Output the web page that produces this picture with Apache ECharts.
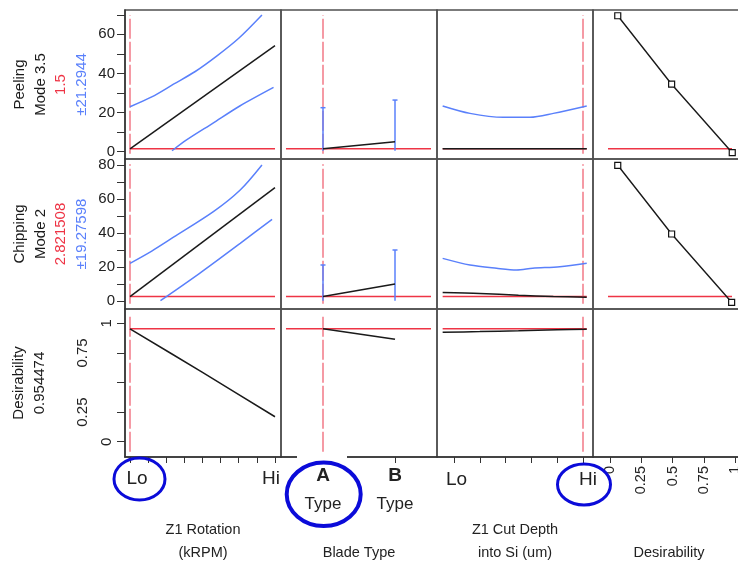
<!DOCTYPE html>
<html>
<head>
<meta charset="utf-8">
<script src="https://cdn.jsdelivr.net/npm/echarts@6/dist/echarts.min.js"></script>
<style>
  html, body { margin: 0; padding: 0; background: #fff; }
  #box { width: 738px; height: 564px; }
</style>
</head>
<body>
<div id="box"></div>
<script>
// current settings shown in the profiler
const peelNow = 1.5, chipNow = 2.821508, desirNow = 0.954474;
const nowValues = [peelNow, chipNow, desirNow];
const factorNow = [0, 0, 1]; // Lo, A, Hi

// tick values / labels
const peelTicks = [0, 20, 40, 60];
const chipTicks = [0, 20, 40, 60, 80];
const peelMinor = [10, 30, 50, 70];
const chipMinor = [10, 30, 50, 70];
const desirTicks = [0, 0.25, 0.5, 0.75, 1];
const desirTickLabels = ['0', '0.25', '', '0.75', '1'];
const rotTicks = [0, 0.125, 0.25, 0.375, 0.5, 0.625, 0.75, 0.875, 1];
const cutTicks = [0, 0.2, 0.4, 0.6, 0.8, 1];
const levelLabels = ['Lo', 'Hi'];
const bladeLevels = ['A', 'B'];
const factorNames = ['Z1 Rotation\n(kRPM)', 'Blade Type', 'Z1 Cut Depth\ninto Si (um)', 'Desirability'];

// Z1 Rotation profiles  [x (0=Lo,1=Hi), value]
const peelRot = [[0, 1.5], [1, 54.2]];
const peelRotHi = [[0, 23], [0.15, 28], [0.3, 34.5], [0.45, 41], [0.6, 49], [0.75, 58], [0.91, 69.9]];
const peelRotLo = [[0.29, 0.5], [0.39, 6], [0.57, 14.5], [0.76, 23.5], [0.99, 32.9]];
const chipRot = [[0, 2.8], [1, 66.7]];
const chipRotHi = [[0, 22.3], [0.15, 29.5], [0.3, 37.6], [0.575, 52.6], [0.76, 65.3], [0.91, 80]];
const chipRotLo = [[0.21, 0.35], [0.48, 16.4], [0.76, 34], [0.98, 48.1]];
const desirRot = [[0, 0.954], [0.5, 0.585], [1, 0.211]];

// Blade type (A, B)
const bladeX = [0, 1];
const peelBlade = [1.5, 5.1];
const peelBladeHi = [22.5, 26.4];
const peelBladeLo = [0.5, 0.5];
const chipBlade = [2.8, 10.2];
const chipBladeHi = [21.3, 30.1];
const chipBladeLo = [0.3, 0.3];
const desirBlade = [0.954, 0.865];

// Z1 Cut depth profiles
const peelCut = [[-0.088, 1.5], [1.029, 1.5]];
const peelCutHi = [[-0.088, 23.4], [0.124, 19.6], [0.382, 17.6], [0.589, 17.6], [0.77, 19.6], [1.029, 23.4]];
const chipCut = [[-0.088, 5.1], [0.2, 4.6], [0.5, 3.6], [0.77, 2.8], [1.029, 2.4]];
const chipCutHi = [[-0.088, 25.2], [0.124, 21.3], [0.33, 19.4], [0.485, 18.4], [0.61, 19.4], [0.82, 20.3], [1.029, 22.3]];
const desirCut = [[-0.088, 0.925], [0.2, 0.93], [0.5, 0.937], [0.8, 0.945], [1.029, 0.95]];

// desirability functions [desirability, response]
const peelDesFn = [[0.062, 69.5], [0.493, 34.5], [0.978, -0.5]];
const chipDesFn = [[0.062, 79.8], [0.493, 39.5], [0.973, -0.6]];

// ---- layout ----
const FONT = 'Liberation Sans, Arial, sans-serif';
const BLACK = '#1a1a1a', BLUE = '#5a80fb', RED = '#ee3445', RED_V = '#f06474';
const cols = [[125, 281], [281, 437], [437, 593], [593, 745]];
const rows = [[10, 159], [159, 309], [309, 457]];
const xMin = [-0.0345, -0.5833, -0.1318, -0.136];
const xMax = [1.0414, 1.5833, 1.0775, 1.08];
const yMin = [-3.73, -4.52, -0.129];
const yMax = [72.44, 83.5, 1.121];
const hSpan = [[0, 1], [-0.514, 1.5], [-0.088, 1.029], [-0.016, 0.976]];

const rowNames = [
  '{k|Peeling}\n{k|Mode 3.5}\n{r|' + peelNow + '}\n{b|±21.2944}',
  '{k|Chipping}\n{k|Mode 2}\n{r|' + chipNow + '}\n{b|±19.27598}',
  '{k|Desirability}\n{k|' + desirNow + '}'
];
const nameRich = {
  k: { color: BLACK, fontSize: 15, lineHeight: 20.7, fontFamily: FONT },
  r: { color: RED, fontSize: 15, lineHeight: 20.7, fontFamily: FONT },
  b: { color: BLUE, fontSize: 15, lineHeight: 20.7, fontFamily: FONT }
};

let grids = [], xAxes = [], yAxes = [], series = [];

for (let r = 0; r < 3; r++) {
  for (let c = 0; c < 4; c++) {
    const g = r * 4 + c;
    grids.push({
      left: cols[c][0], top: rows[r][0],
      width: cols[c][1] - cols[c][0], height: rows[r][1] - rows[r][0],
      show: true, borderColor: '#505050', borderWidth: 1.5,
      containLabel: false, outerBoundsMode: 'none'
    });

    // x axis
    let xa = {
      type: 'value', gridIndex: g, min: xMin[c], max: xMax[c],
      show: r === 2, splitLine: { show: false },
      axisLine: { show: true, onZero: false, lineStyle: { color: '#333', width: 1.5 } },
      axisTick: { show: true, length: 6, lineStyle: { color: '#333' } },
      axisLabel: { show: true, hideOverlap: false, color: '#222', fontFamily: FONT },
      nameMoveOverlap: false
    };
    if (r === 2) {
      xa.name = factorNames[c];
      xa.nameLocation = 'middle';
      xa.nameGap = (c === 0 || c === 2) ? 61.5 : 84.5;
      xa.nameTextStyle = { fontSize: 14.5, lineHeight: 23, color: '#222', fontFamily: FONT };
      if (c === 0) {
        xa.axisTick.customValues = rotTicks;
        xa.axisLabel.customValues = [0, 1];
        xa.axisLabel.margin = 12;
        xa.axisLabel.formatter = v => v === 0 ? '{lo|' + levelLabels[0] + '}' : '{hi|' + levelLabels[1] + '}';
        xa.axisLabel.rich = {
          lo: { fontSize: 19, fontFamily: FONT, color: '#222', padding: [0, 0, 0, 14] },
          hi: { fontSize: 19, fontFamily: FONT, color: '#222', padding: [0, 8, 0, 0] }
        };
      } else if (c === 1) {
        xa.axisTick.customValues = bladeX;
        xa.axisLabel.customValues = bladeX;
        xa.axisLabel.margin = 5;
        xa.axisLabel.formatter = v => '{big|' + bladeLevels[v] + '}\n{sm|Type}';
        xa.axisLabel.rich = {
          big: { fontSize: 19, fontWeight: 'bold', fontFamily: FONT, color: '#222', lineHeight: 28 },
          sm: { fontSize: 17, fontFamily: FONT, color: '#222', lineHeight: 28 }
        };
      } else if (c === 2) {
        xa.axisTick.customValues = cutTicks;
        xa.axisLabel.customValues = [0, 1];
        xa.axisLabel.margin = 13;
        xa.axisLabel.formatter = v => v === 0 ? '{lo|' + levelLabels[0] + '}' : '{hi|' + levelLabels[1] + '}';
        xa.axisLabel.rich = {
          lo: { fontSize: 19, fontFamily: FONT, color: '#222', padding: [0, 0, 0, 5] },
          hi: { fontSize: 19, fontFamily: FONT, color: '#222', padding: [0, 0, 0, 10] }
        };
      } else {
        xa.axisTick.customValues = desirTicks;
        xa.axisLabel.customValues = desirTicks;
        xa.axisLabel.rotate = 90;
        xa.axisLabel.margin = 9;
        xa.axisLabel.fontSize = 14.5;
        xa.axisLabel.formatter = v => String(v);
      }
    }
    xAxes.push(xa);

    // y axis
    let ya = {
      type: 'value', gridIndex: g, min: yMin[r], max: yMax[r],
      show: c === 0, splitLine: { show: false },
      axisLine: { show: true, onZero: false, lineStyle: { color: '#333', width: 1.5 } },
      axisTick: { show: true, length: 8, lineStyle: { color: '#333' } },
      axisLabel: { show: true, hideOverlap: false, color: '#222', fontSize: 15, fontFamily: FONT, margin: 10 },
      nameMoveOverlap: false
    };
    if (c === 0) {
      ya.name = rowNames[r];
      ya.nameLocation = 'middle';
      ya.nameGap = r === 2 ? 74.6 : 32.6;
      ya.nameTextStyle = { rich: nameRich, fontFamily: FONT };
      if (r === 0) {
        ya.axisTick.customValues = peelTicks.concat(peelMinor);
        ya.axisLabel.customValues = peelTicks;
      } else if (r === 1) {
        ya.axisTick.customValues = chipTicks.concat(chipMinor);
        ya.axisLabel.customValues = chipTicks;
      } else {
        ya.axisTick.customValues = desirTicks;
        ya.axisLabel.customValues = desirTicks;
        ya.axisLabel.rotate = 90;
        ya.axisLabel.margin = 11;
        ya.axisLabel.formatter = v => {
          const lab = desirTickLabels[desirTicks.indexOf(v)];
          return (v === 0.25 || v === 0.75) ? '{f|' + lab + '}' : '{n|' + lab + '}';
        };
        ya.axisLabel.rich = {
          f: { fontSize: 15, fontFamily: FONT, color: '#222', padding: [0, 0, 24, 0] },
          n: { fontSize: 15, fontFamily: FONT, color: '#222' }
        };
      }
    }
    yAxes.push(ya);

    // red reference lines
    if (!(r === 2 && c === 3)) {
      series.push({
        type: 'line', xAxisIndex: g, yAxisIndex: g, silent: true, symbol: 'none', z: 2,
        data: [[hSpan[c][0], nowValues[r]], [hSpan[c][1], nowValues[r]]],
        lineStyle: { color: RED, width: 1.5 }
      });
    }
    if (c < 3) {
      const d = (yMax[r] - yMin[r]) * 0.035;
      series.push({
        type: 'line', xAxisIndex: g, yAxisIndex: g, silent: true, symbol: 'none', z: 2,
        data: [[factorNow[c], yMin[r] + d], [factorNow[c], yMax[r] - d]],
        lineStyle: { color: RED_V, width: 1.3, type: [20, 3] }
      });
    }
  }
}

function curve(g, data, color) {
  return {
    type: 'line', xAxisIndex: g, yAxisIndex: g, silent: true, symbol: 'none', z: 3,
    smooth: 0.3, data: data, lineStyle: { color: color, width: 1.5 }
  };
}
function errorBars(g, mid, lo, hi) {
  return {
    type: 'custom', xAxisIndex: g, yAxisIndex: g, silent: true, z: 3,
    data: bladeX.map((x, i) => [x, lo[i], hi[i]]),
    renderItem: (params, api) => {
      const p0 = api.coord([api.value(0), api.value(1)]);
      const p1 = api.coord([api.value(0), api.value(2)]);
      return {
        type: 'group', children: [
          { type: 'line', shape: { x1: p0[0], y1: p0[1], x2: p1[0], y2: p1[1] }, style: { stroke: BLUE, lineWidth: 1.5 } },
          { type: 'line', shape: { x1: p1[0] - 2.5, y1: p1[1], x2: p1[0] + 2.5, y2: p1[1] }, style: { stroke: BLUE, lineWidth: 1.5 } }
        ]
      };
    }
  };
}
function desFn(g, data) {
  return {
    type: 'line', xAxisIndex: g, yAxisIndex: g, silent: true, z: 4,
    data: data, symbol: 'rect', symbolSize: 6, showSymbol: true,
    lineStyle: { color: BLACK, width: 1.4 },
    itemStyle: { color: '#fff', borderColor: '#111', borderWidth: 1.2 }
  };
}

// row 1: Peeling
series.push(curve(0, peelRotHi, BLUE), curve(0, peelRotLo, BLUE), curve(0, peelRot, BLACK));
series.push(errorBars(1, peelBlade, peelBladeLo, peelBladeHi));
series.push(curve(1, bladeX.map((x, i) => [x, peelBlade[i]]), BLACK));
series.push(curve(2, peelCutHi, BLUE), curve(2, peelCut, BLACK));
series.push(desFn(3, peelDesFn));
// row 2: Chipping
series.push(curve(4, chipRotHi, BLUE), curve(4, chipRotLo, BLUE), curve(4, chipRot, BLACK));
series.push(errorBars(5, chipBlade, chipBladeLo, chipBladeHi));
series.push(curve(5, bladeX.map((x, i) => [x, chipBlade[i]]), BLACK));
series.push(curve(6, chipCutHi, BLUE), curve(6, chipCut, BLACK));
series.push(desFn(7, chipDesFn));
// row 3: Desirability
series.push(curve(8, desirRot, BLACK));
series.push(curve(9, bladeX.map((x, i) => [x, desirBlade[i]]), BLACK));
series.push(curve(10, desirCut, BLACK));

const ANNO = '#0b0bd9';
let chart = echarts.init(document.getElementById('box'));
chart.setOption({
  animation: false,
  backgroundColor: '#fff',
  textStyle: { fontFamily: FONT },
  grid: grids,
  xAxis: xAxes,
  yAxis: yAxes,
  series: series,
  graphic: [
    { type: 'rect', z: 50, shape: { x: 297, y: 453, width: 50, height: 8 }, style: { fill: '#fff' } },
    { type: 'ellipse', z: 60, shape: { cx: 139.5, cy: 479, rx: 25.5, ry: 21 }, style: { fill: 'none', stroke: ANNO, lineWidth: 3 } },
    { type: 'ellipse', z: 60, shape: { cx: 323.7, cy: 494.3, rx: 37, ry: 31.7 }, style: { fill: 'none', stroke: ANNO, lineWidth: 4 } },
    { type: 'ellipse', z: 60, shape: { cx: 584, cy: 484.5, rx: 26.5, ry: 20.5 }, style: { fill: 'none', stroke: ANNO, lineWidth: 3 } }
  ]
});
</script>
</body>
</html>
